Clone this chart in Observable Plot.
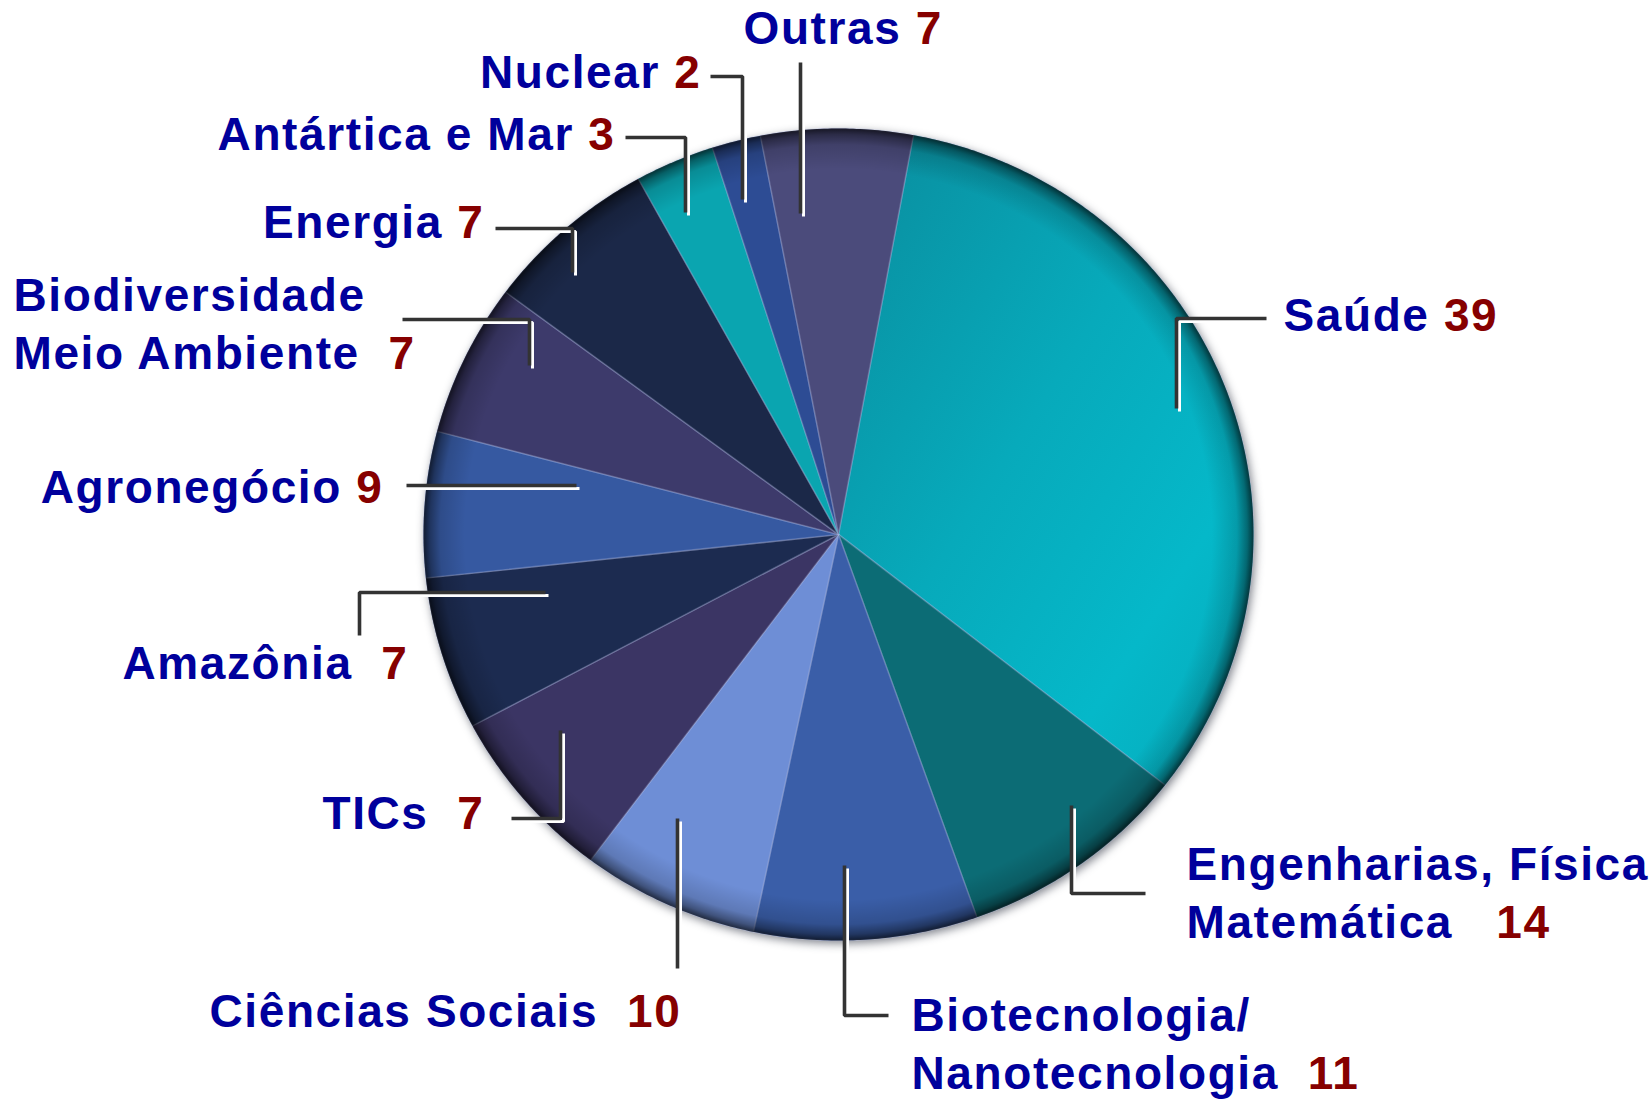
<!DOCTYPE html>
<html>
<head>
<meta charset="utf-8">
<script src="https://cdn.jsdelivr.net/npm/d3@7"></script>
<script src="https://cdn.jsdelivr.net/npm/@observablehq/plot@0.6"></script>
<style>
  html, body { margin: 0; padding: 0; background: #ffffff; overflow: hidden; }
  #chart svg text { white-space: pre; letter-spacing: 1.6px; }
</style>
</head>
<body>
<div id="chart"></div>
<script>
// ---------- data ----------
const categories = [
  "Saúde",
  "Engenharias, Física\nMatemática",
  "Biotecnologia/\nNanotecnologia",
  "Ciências Sociais",
  "TICs",
  "Amazônia",
  "Agronegócio",
  "Biodiversidade\nMeio Ambiente",
  "Energia",
  "Antártica e Mar",
  "Nuclear",
  "Outras"
];
// numbers printed next to each label
const counts = [39, 14, 11, 10, 7, 7, 9, 7, 7, 3, 2, 7];
// share of the circle taken by each slice, in percent, as drawn in the picture
const shares = [32.7, 9.0, 8.7, 6.9, 7.0, 6.1, 5.8, 6.1, 6.8, 3.1, 1.9, 5.9];
// spacing between the name and its number, as typeset in the picture
const labelGaps = [" ", "   ", "  ", "  ", "  ", "  ", " ", "  ", " ", " ", " ", " "];

// ---------- styles ----------
const sliceColors = [
  "url(#gradSaude)", "#0c6c75", "#3a5ea8", "#6e8ed6", "#3b3564", "#1c2b50",
  "#3659a1", "#3d3a6b", "#1b2848", "#0aa5b0", "#2d4c94", "#4b4b7b"
];
const nameColor = "#00009c";
const numberColor = "#860000";

// ---------- layout (reference pixel frame) ----------
const W = 1650, H = 1099;
const CX = 838, CY = 534, RX = 415, RY = 406;   // pie centre and radii
const START_DEG = 10.4;                          // where the first slice starts (clockwise from 12 o'clock)
const labelLayout = [
  {anchor: "start", at: [1283, 330],  leader: [[1176, 408], [1176, 318], [1266, 318]]},
  {anchor: "start", at: [1186, 937],  leader: [[1071, 805], [1071, 893], [1145, 893]]},
  {anchor: "start", at: [911, 1088],  leader: [[844, 865], [844, 1015], [888, 1015]]},
  {anchor: "start", at: [209, 1026],  leader: [[677, 818], [677, 968]]},
  {anchor: "end",   at: [484, 828],   leader: [[560, 730], [560, 818], [511, 818]]},
  {anchor: "start", at: [122, 678],   leader: [[545, 592], [359, 592], [359, 635]]},
  {anchor: "end",   at: [383, 502],   leader: [[576, 485], [406, 485]]},
  {anchor: "start", at: [13, 368],    leader: [[529, 365], [529, 319], [402, 319]]},
  {anchor: "end",   at: [484, 237],   leader: [[572, 272], [572, 228], [495, 228]]},
  {anchor: "end",   at: [615, 149],   leader: [[685, 212], [685, 137], [625, 137]]},
  {anchor: "end",   at: [701, 87],    leader: [[742, 199], [742, 76], [710, 76]]},
  {anchor: "start", at: [743, 43],    leader: [[800, 213], [800, 62]]}
];
const toUnit = ([px, py]) => ({x: (px - CX) / RX, y: (CY - py) / RY});

// ---------- derived tables ----------
const rows = categories.map((name, i) => ({name, count: counts[i], share: shares[i]}));
const start = START_DEG * Math.PI / 180;
const arcs = d3.pie().sort(null).value(d => d.share).startAngle(start).endAngle(start + 2 * Math.PI)(rows);

const slicePts = arcs.flatMap(a => {
  const n = Math.max(3, Math.ceil((a.endAngle - a.startAngle) / (Math.PI / 360)));
  const pts = [{name: a.data.name, x: 0, y: 0}];
  for (let k = 0; k <= n; k++) {
    const t = a.startAngle + (a.endAngle - a.startAngle) * k / n;
    pts.push({name: a.data.name, x: Math.sin(t), y: Math.cos(t)});
  }
  return pts;
});
const circlePts = d3.range(0, 721).map(k => {
  const t = k * Math.PI / 360;
  return {x: Math.sin(t), y: Math.cos(t)};
});

const leaderPts = rows.flatMap((r, i) =>
  labelLayout[i].leader.map(p => ({name: r.name, ...toUnit(p)})));
const labelRows = rows.map((r, i) => ({
  text: r.name + labelGaps[i] + r.count,
  anchor: labelLayout[i].anchor,
  ...toUnit(labelLayout[i].at)
}));

const textOpts = {
  x: "x", y: "y", text: "text",
  fill: nameColor, fontSize: 46, fontWeight: "bold",
  fontFamily: "'Liberation Sans', Arial, sans-serif",
  lineAnchor: "bottom", lineHeight: 1.24
};

const svg = Plot.plot({
  width: W, height: H,
  margin: 0,
  x: {domain: [(0 - CX) / RX, (W - CX) / RX], range: [0, W], axis: null},
  y: {domain: [(CY - H) / RY, CY / RY], range: [H, 0], axis: null},
  color: {type: "ordinal", domain: categories, range: sliceColors},
  marks: [
    // soft shadow under the pie
    Plot.line(circlePts, {x: "x", y: "y", curve: "linear-closed", fill: "#141a2a", fillOpacity: 0.55, stroke: "none", dx: 2, dy: 3}),
    // slices
    Plot.line(slicePts, {x: "x", y: "y", z: "name", fill: "name", curve: "linear-closed",
      stroke: "rgba(180,190,235,0.28)", strokeWidth: 1.6, strokeLinejoin: "round"}),
    // rim shading
    Plot.line(circlePts, {x: "x", y: "y", curve: "linear-closed", fill: "url(#rimShade)", stroke: "none"}),
    // leader lines: light highlight then dark line
    Plot.line(leaderPts, {x: "x", y: "y", z: "name", stroke: "#ffffff", strokeWidth: 3, dx: 3, dy: 3,
      strokeLinejoin: "miter", strokeLinecap: "butt", curve: "linear"}),
    Plot.line(leaderPts, {x: "x", y: "y", z: "name", stroke: "#333333", strokeWidth: 3.6,
      strokeLinejoin: "miter", strokeLinecap: "butt", curve: "linear"}),
    // labels
    Plot.text(labelRows.filter(d => d.anchor === "start"), {...textOpts, textAnchor: "start"}),
    Plot.text(labelRows.filter(d => d.anchor === "end"), {...textOpts, textAnchor: "end"})
  ]
});

// gradients used by the slices and the rim
const defs = d3.select(svg).insert("defs", ":first-child");
const gS = defs.append("linearGradient").attr("id", "gradSaude")
  .attr("x1", 0).attr("y1", 0).attr("x2", 1).attr("y2", 1);
[[0, "#0a8c9d"], [0.45, "#07aabb"], [0.75, "#05b8c9"], [1, "#06a9b9"]]
  .forEach(([o, c]) => gS.append("stop").attr("offset", o).attr("stop-color", c));
const gR = defs.append("radialGradient").attr("id", "rimShade")
  .attr("cx", 0.5).attr("cy", 0.5).attr("r", 0.5);
[[0, 0], [0.9, 0], [0.96, 0.15], [0.985, 0.42], [1, 0.7]]
  .forEach(([o, a]) => gR.append("stop").attr("offset", o).attr("stop-color", "#000").attr("stop-opacity", a));

// blur the shadow
d3.select(svg).selectAll('g[fill="#141a2a"]').style("filter", "blur(5px)");

// colour the number at the end of each label
d3.select(svg).selectAll('g[aria-label="text"] text').each(function() {
  const spans = this.querySelectorAll("tspan");
  const node = spans.length ? spans[spans.length - 1] : this;
  const m = node.textContent.match(/^([\s\S]*?)(\s+)(\d+)$/);
  if (!m) return;
  node.textContent = "";
  d3.select(node).append("tspan").text(m[1] + m[2]);
  d3.select(node).append("tspan").attr("fill", numberColor).text(m[3]);
});

document.getElementById("chart").append(svg);
</script>
</body>
</html>
